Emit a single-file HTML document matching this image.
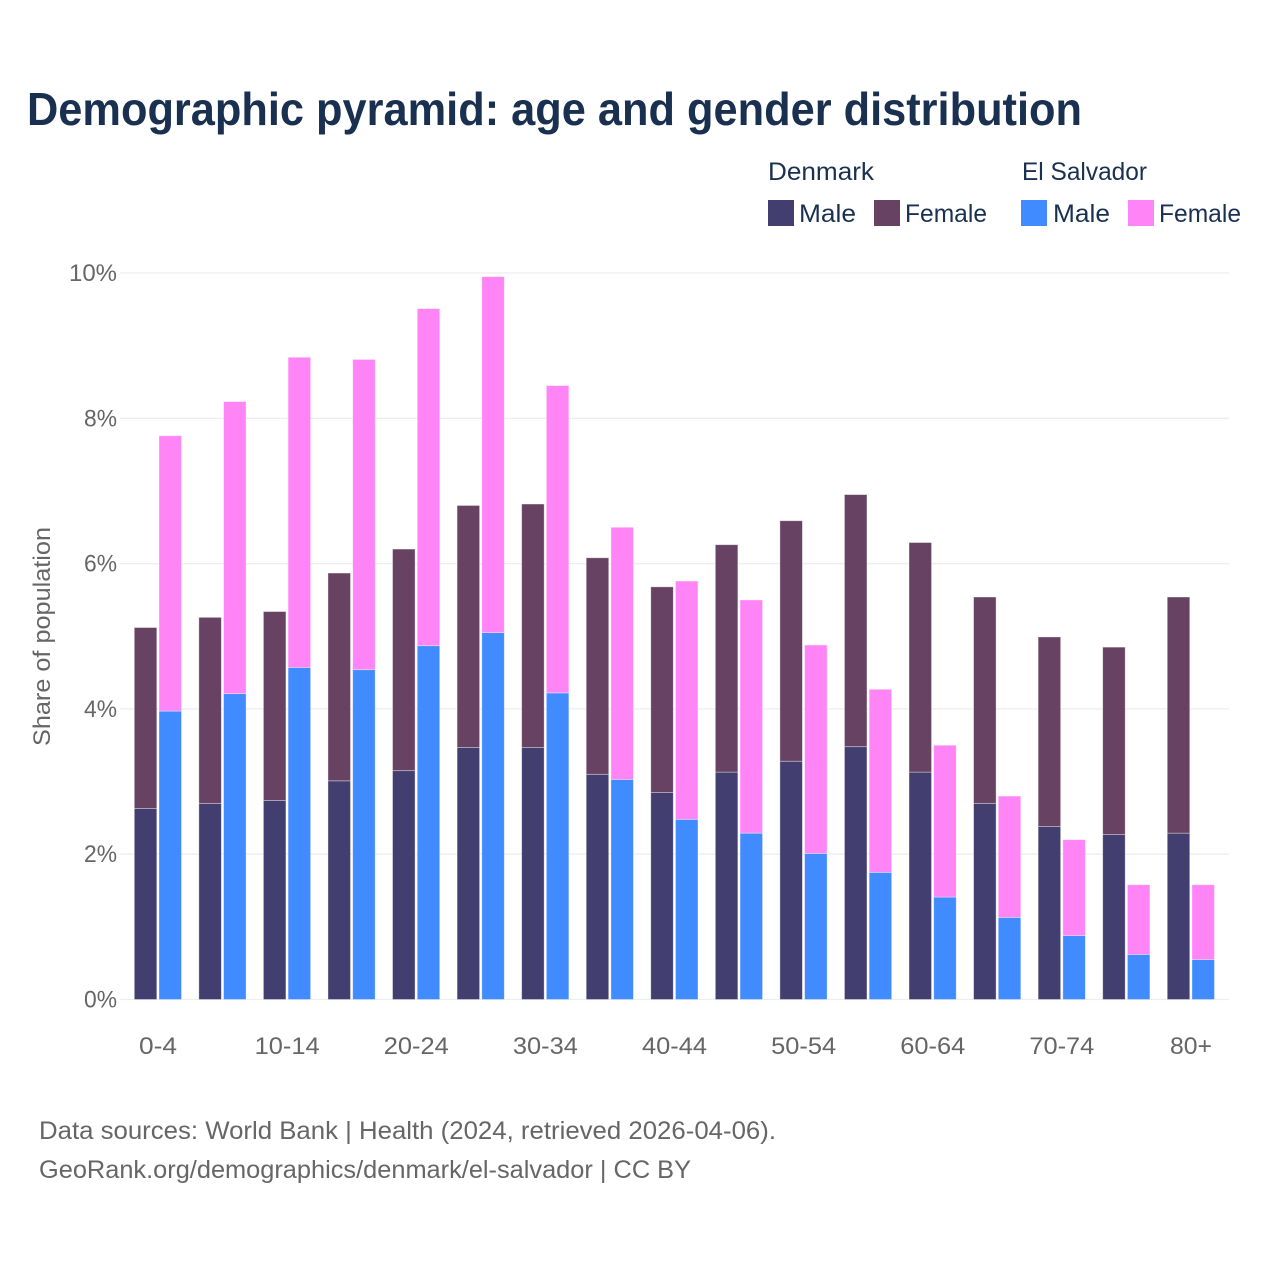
<!DOCTYPE html>
<html lang="en">
<head>
<meta charset="utf-8">
<title>Demographic pyramid: age and gender distribution</title>
<style>
html,body{margin:0;padding:0;background:#fff;width:1280px;height:1280px;overflow:hidden}
svg{display:block;font-family:"Liberation Sans",sans-serif}
</style>
</head>
<body>
<svg id="chart" xmlns="http://www.w3.org/2000/svg" width="1280" height="1280" viewBox="0 0 1280 1280">
  <rect x="0" y="0" width="1280" height="1280" fill="#ffffff"/>
  <text x="27" y="125" font-size="46" font-weight="700" fill="#1a3050" textLength="1055" lengthAdjust="spacingAndGlyphs">Demographic pyramid: age and gender distribution</text>

  <g font-size="25" fill="#1a3050">
    <text x="768" y="180" textLength="106" lengthAdjust="spacingAndGlyphs">Denmark</text>
    <text x="1022" y="180" textLength="125" lengthAdjust="spacingAndGlyphs">El Salvador</text>
    <rect x="768" y="200" width="26" height="26" fill="#423f70"/>
    <text x="799" y="222" textLength="57" lengthAdjust="spacingAndGlyphs">Male</text>
    <rect x="874" y="200" width="26" height="26" fill="#684262"/>
    <text x="905" y="222" textLength="82" lengthAdjust="spacingAndGlyphs">Female</text>
    <rect x="1021" y="200" width="26" height="26" fill="#3f8bff"/>
    <text x="1053" y="222" textLength="57" lengthAdjust="spacingAndGlyphs">Male</text>
    <rect x="1128" y="200" width="26" height="26" fill="#ff85f7"/>
    <text x="1159" y="222" textLength="82" lengthAdjust="spacingAndGlyphs">Female</text>
  </g>

  <g id="grid"></g>
  <g id="bars"></g>
  <g id="y-axis"></g>
  <g id="x-axis"></g>

  <text transform="translate(50,746) rotate(-90)" font-size="24" fill="#666666" textLength="219" lengthAdjust="spacingAndGlyphs">Share of population</text>

  <g font-size="25" fill="#666666">
    <text x="39" y="1139" textLength="737" lengthAdjust="spacingAndGlyphs">Data sources: World Bank | Health (2024, retrieved 2026-04-06).</text>
    <text x="39" y="1178" textLength="652" lengthAdjust="spacingAndGlyphs">GeoRank.org/demographics/denmark/el-salvador | CC BY</text>
  </g>
</svg>

<script>
const categories = ["0-4","5-9","10-14","15-19","20-24","25-29","30-34","35-39","40-44","45-49","50-54","55-59","60-64","65-69","70-74","75-79","80+"];
const denmarkMale = [2.63,2.70,2.74,3.01,3.15,3.47,3.47,3.10,2.85,3.13,3.28,3.48,3.13,2.70,2.38,2.27,2.29];
const denmarkFemale = [2.49,2.56,2.60,2.86,3.05,3.33,3.35,2.98,2.83,3.13,3.31,3.47,3.16,2.84,2.61,2.58,3.25];
const elSalvadorMale = [3.97,4.21,4.57,4.54,4.87,5.05,4.22,3.03,2.48,2.29,2.01,1.75,1.41,1.13,0.88,0.62,0.55];
const elSalvadorFemale = [3.79,4.02,4.27,4.27,4.64,4.90,4.23,3.47,3.28,3.21,2.87,2.52,2.09,1.67,1.32,0.96,1.03];
const yTicks = [0,2,4,6,8,10];
const xTickLabels = ["0-4","10-14","20-24","30-34","40-44","50-54","60-64","70-74","80+"];

const SVG_NS = "http://www.w3.org/2000/svg";
const COLORS = {dkMale:"#423f70", dkFemale:"#684262", esMale:"#3f8bff", esFemale:"#ff85f7"};
const BAR_WIDTH = 22.5;

function yScale(v){ return 999.5 - v * 72.65; }
function xCenter(i){ return 158 + i * 64.56; }
function make(tag, attrs, parent){
  const el = document.createElementNS(SVG_NS, tag);
  for (const k in attrs) el.setAttribute(k, attrs[k]);
  parent.appendChild(el);
  return el;
}
function drawSegment(parent, x, base, value, color, name){
  const top = yScale(base + value);
  const bottom = yScale(base);
  const el = make("rect", {x:x, y:top, width:BAR_WIDTH, height:bottom - top, fill:color, stroke:"#ffffff", "stroke-opacity":0.45, "stroke-width":0.8}, parent);
  
  
}

const gridG = document.getElementById("grid");
const yAxisG = document.getElementById("y-axis");
yTicks.forEach(function(t){
  const y = yScale(t);
  const line = make("line", {x1:120, x2:1229, y1:y, y2:y, stroke:"#eeeeee", "stroke-width":1.3}, gridG);
  
  
  const label = t + "%";
  const width = label.length === 3 ? 48 : 33;
  const txt = make("text", {x:117, y:y + 8, "text-anchor":"end", "font-size":24, fill:"#666666", textLength:width, lengthAdjust:"spacingAndGlyphs"}, yAxisG);
  txt.textContent = label;
  
  
});

const barsG = document.getElementById("bars");
categories.forEach(function(cat, i){
  const c = xCenter(i);
  const group = make("g", {}, barsG);
  
  
  drawSegment(group, c - 23.7, 0, denmarkMale[i], COLORS.dkMale, "bar-denmark-male");
  drawSegment(group, c - 23.7, denmarkMale[i], denmarkFemale[i], COLORS.dkFemale, "bar-denmark-female");
  drawSegment(group, c + 1, 0, elSalvadorMale[i], COLORS.esMale, "bar-el-salvador-male");
  drawSegment(group, c + 1, elSalvadorMale[i], elSalvadorFemale[i], COLORS.esFemale, "bar-el-salvador-female");
});

const xAxisG = document.getElementById("x-axis");
xTickLabels.forEach(function(label){
  const i = categories.indexOf(label);
  const width = label.length === 5 ? 65 : (label === "80+" ? 42 : 38);
  const txt = make("text", {x:xCenter(i) - width / 2, y:1054, "font-size":24, fill:"#666666", textLength:width, lengthAdjust:"spacingAndGlyphs"}, xAxisG);
  txt.textContent = label;
  
  
});
</script>
</body>
</html>
